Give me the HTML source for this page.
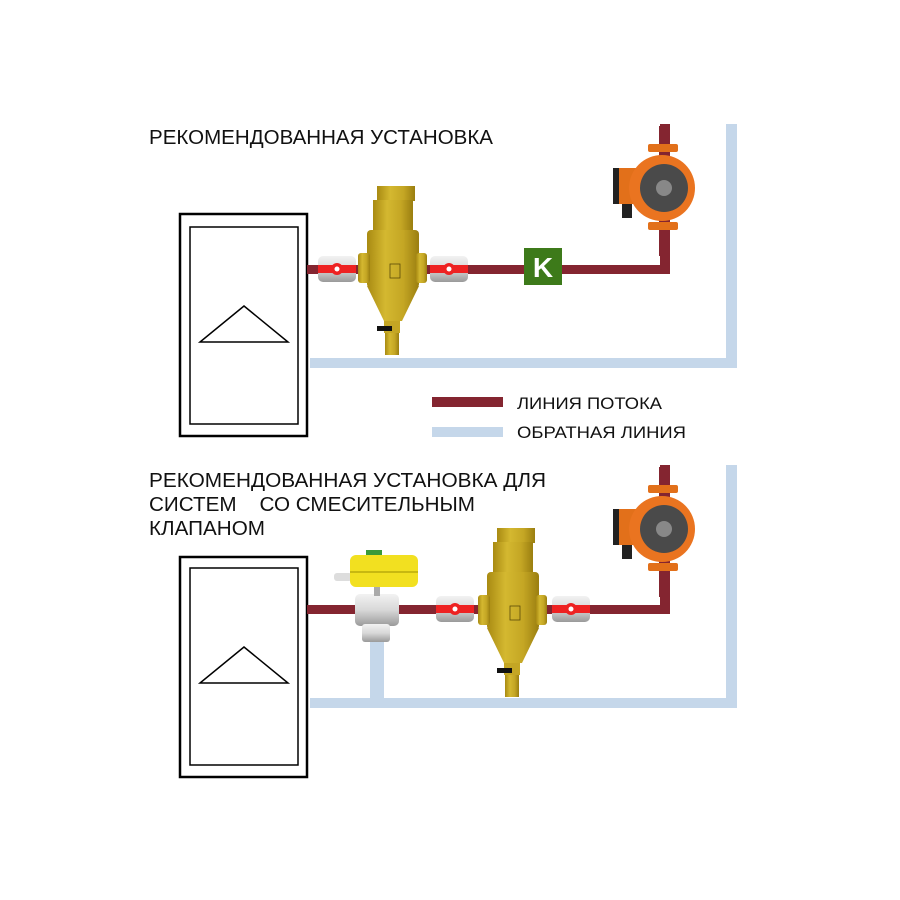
<!DOCTYPE html>
<html><head><meta charset="utf-8"><style>
body{margin:0;background:#fff;}
svg{display:block}
text{font-family:"Liberation Sans","DejaVu Sans",sans-serif;fill:#111}
</style></head><body>
<svg width="900" height="900" viewBox="0 0 900 900" xmlns="http://www.w3.org/2000/svg">
<defs>
<linearGradient id="brass" x1="0" x2="1" y1="0" y2="0">
<stop offset="0" stop-color="#a88a12"/><stop offset="0.35" stop-color="#d4b830"/><stop offset="0.7" stop-color="#c4a624"/><stop offset="1" stop-color="#9a7e10"/>
</linearGradient>
<linearGradient id="chrome" x1="0" x2="0" y1="0" y2="1">
<stop offset="0" stop-color="#f2f2f2"/><stop offset="0.5" stop-color="#d8d8d8"/><stop offset="1" stop-color="#9a9a9a"/>
</linearGradient>
<g id="valve">
<rect x="-19" y="-13" width="38" height="26" rx="5" fill="url(#chrome)"/>
<rect x="-19" y="-4" width="38" height="8" fill="#ee2222"/>
<circle cx="0" cy="0" r="6" fill="#ee2222"/><circle cx="0" cy="0" r="2.5" fill="#fff"/>
</g>
<g id="sep">
<rect x="-15" y="0" width="38" height="15" fill="url(#brass)"/>
<rect x="-19" y="14" width="40" height="30" fill="url(#brass)"/>
<rect x="-25" y="44" width="52" height="58" rx="4" fill="url(#brass)"/>
<rect x="-34" y="67" width="12" height="30" rx="3" fill="url(#brass)"/>
<rect x="24" y="67" width="11" height="30" rx="3" fill="url(#brass)"/>
<polygon points="-25,100 27,100 10,135 -8,135" fill="url(#brass)"/>
<rect x="-8" y="135" width="16" height="12" fill="#c4a624"/>
<rect x="-15" y="140" width="15" height="5" fill="#111"/>
<rect x="-7" y="147" width="14" height="22" fill="url(#brass)"/>
<rect x="-2" y="78" width="10" height="14" fill="none" stroke="#5a4a08" stroke-width="0.8"/>
</g>
<g id="pump">
<rect x="-3" y="-62" width="10" height="130" fill="#842530"/>
<rect x="-14" y="-44" width="30" height="8" rx="2" fill="#e2701a"/>
<rect x="-14" y="34" width="30" height="8" rx="2" fill="#e2701a"/>
<rect x="-48" y="-20" width="26" height="36" fill="#e2701a"/>
<rect x="-49" y="-20" width="6" height="36" fill="#222"/>
<rect x="-40" y="16" width="10" height="14" fill="#222"/>
<circle cx="0" cy="0" r="33" fill="#ea7420"/>
<circle cx="2" cy="0" r="24" fill="#4a4a4a"/>
<circle cx="2" cy="0" r="8" fill="#888"/>
</g>
</defs>

<text x="149" y="144" font-size="20" textLength="344" lengthAdjust="spacingAndGlyphs">РЕКОМЕНДОВАННАЯ УСТАНОВКА</text>

<!-- top system -->
<rect x="180" y="214" width="127" height="222" fill="none" stroke="#000" stroke-width="2.5"/>
<rect x="190" y="227" width="108" height="197" fill="none" stroke="#000" stroke-width="1.5"/>
<polygon points="200,342 288,342 244,306" fill="none" stroke="#000" stroke-width="1.5"/>
<path d="M726 124 V358 H310 V368 H737 V124 Z" fill="#c5d7ea"/>
<rect x="307" y="265" width="362" height="9" fill="#842530"/>
<rect x="660" y="124" width="10" height="150" fill="#842530"/>
<use href="#pump" x="662" y="188"/>
<use href="#sep" x="392" y="186"/>
<use href="#valve" x="337" y="269"/>
<use href="#valve" x="449" y="269"/>
<rect x="524" y="248" width="38" height="37" fill="#3d7a1a"/>
<text x="543" y="277" font-size="28" font-weight="bold" text-anchor="middle" style="fill:#fff">K</text>

<!-- legend -->
<rect x="432" y="397" width="71" height="10" fill="#842530"/>
<text x="517" y="409" font-size="17" textLength="145" lengthAdjust="spacingAndGlyphs">ЛИНИЯ ПОТОКА</text>
<rect x="432" y="427" width="71" height="10" fill="#c5d7ea"/>
<text x="517" y="438" font-size="17" textLength="169" lengthAdjust="spacingAndGlyphs">ОБРАТНАЯ ЛИНИЯ</text>

<text x="149" y="487" font-size="20" textLength="397" lengthAdjust="spacingAndGlyphs">РЕКОМЕНДОВАННАЯ УСТАНОВКА ДЛЯ</text>
<text x="149" y="511" font-size="20" xml:space="preserve" textLength="326" lengthAdjust="spacingAndGlyphs">СИСТЕМ    СО СМЕСИТЕЛЬНЫМ</text>
<text x="149" y="535" font-size="20" textLength="116" lengthAdjust="spacingAndGlyphs">КЛАПАНОМ</text>

<!-- bottom system -->
<rect x="180" y="557" width="127" height="220" fill="none" stroke="#000" stroke-width="2.5"/>
<rect x="190" y="568" width="108" height="197" fill="none" stroke="#000" stroke-width="1.5"/>
<polygon points="200,683 288,683 244,647" fill="none" stroke="#000" stroke-width="1.5"/>
<path d="M726 465 V698 H310 V708 H737 V465 Z" fill="#c5d7ea"/>
<rect x="370" y="640" width="14" height="62" fill="#c5d7ea"/>
<rect x="307" y="605" width="362" height="9" fill="#842530"/>
<rect x="660" y="465" width="10" height="149" fill="#842530"/>
<use href="#pump" x="662" y="529"/>
<use href="#sep" x="512" y="528"/>
<use href="#valve" x="455" y="609"/>
<use href="#valve" x="571" y="609"/>
<!-- mixing valve -->
<rect x="355" y="594" width="44" height="32" rx="5" fill="url(#chrome)"/>
<rect x="362" y="624" width="28" height="18" rx="3" fill="url(#chrome)"/>
<rect x="374" y="586" width="6" height="10" fill="#aaa"/>
<rect x="334" y="573" width="18" height="8" rx="3" fill="#ddd"/>
<rect x="350" y="555" width="68" height="32" rx="6" fill="#f2e020"/>
<rect x="350" y="571" width="68" height="2" fill="#c8b810"/>
<rect x="366" y="550" width="16" height="5" fill="#3a9a3a"/>
</svg>
</body></html>
